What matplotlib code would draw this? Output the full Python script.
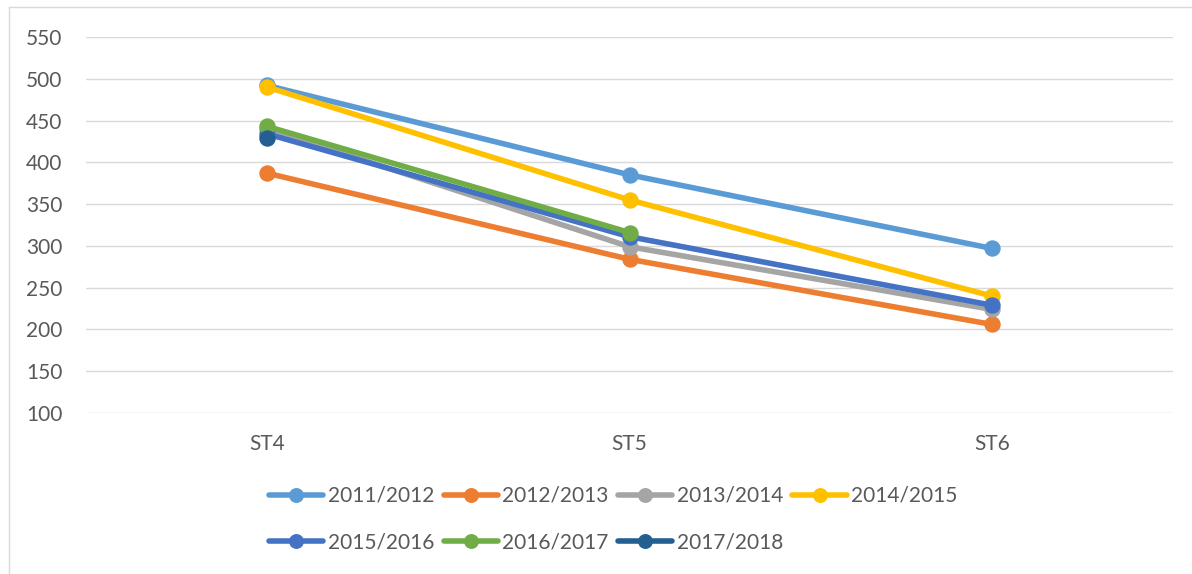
import matplotlib
matplotlib.use("Agg")
import matplotlib.pyplot as plt
from matplotlib.lines import Line2D
import numpy as np

plt.rcParams['font.family'] = ['Lato', 'DejaVu Sans']

categories = ["ST4", "ST5", "ST6"]
series_names = ["2011/2012", "2012/2013", "2013/2014", "2014/2015",
                "2015/2016", "2016/2017", "2017/2018"]
v_2011 = [492, 385, 297]
v_2012 = [387, 284, 206]
v_2013 = [440, 299, 224]
v_2014 = [490, 355, 240]
v_2015 = [434, 311, 229]
v_2016 = [443, 316, None]
v_2017 = [429, None, None]
series_values = [v_2011, v_2012, v_2013, v_2014, v_2015, v_2016, v_2017]
colors = ["#5B9BD5", "#ED7D31", "#A5A5A5", "#FFC000", "#4472C4", "#70AD47", "#255E91"]
yticks = [100, 150, 200, 250, 300, 350, 400, 450, 500, 550]

W, H = 1192, 574
fig = plt.figure(figsize=(W / 100, H / 100), dpi=100)
ax = fig.add_axes([86 / W, 1 - 413 / H, (1173 - 86) / W, (413 - 37) / H])

LW = 4.0
MS = 10.8
x = np.arange(len(categories))
for name, vals, c in zip(series_names, series_values, colors):
    y = np.array([np.nan if v is None else v for v in vals], dtype=float)
    ax.plot(x, y, color=c, lw=LW, marker='o', markersize=MS,
            solid_capstyle='round', label=name, zorder=3)

ax.set_xlim(-0.5, len(categories) - 0.5)
ax.set_ylim(100, 550)
ax.set_yticks(yticks)
ax.set_xticks(x)
ax.set_xticklabels(categories)
ax.grid(axis='y', color='#D9D9D9', lw=1)
ax.set_axisbelow(True)
for s in ax.spines.values():
    s.set_visible(False)
ax.tick_params(axis='both', length=0, colors='#595959', labelsize=15)
ax.tick_params(axis='y', pad=17)
ax.tick_params(axis='x', pad=15)

# legend: row-major order like the reference (matplotlib fills column-major)
order = [0, 4, 1, 5, 2, 6, 3]
handles = [Line2D([0], [0], color=colors[i], lw=LW, marker='o', markersize=MS * 0.9,
                  solid_capstyle='round') for i in order]
labels = [series_names[i] for i in order]
leg = fig.legend(handles, labels, loc='upper left', ncol=4,
                 bbox_to_anchor=(269 / W, 1 - 486 / H), frameon=False,
                 fontsize=15, handlelength=2.6, handletextpad=0.22,
                 columnspacing=0.45, labelspacing=1.25, borderaxespad=0,
                 borderpad=0)
for t in leg.get_texts():
    t.set_color('#595959')

# outer chart border (left and top visible)
fig.add_artist(Line2D([9 / W, 9 / W], [0, 1 - 7 / H], color='#D9D9D9', lw=1,
                      transform=fig.transFigure))
fig.add_artist(Line2D([9 / W, 1], [1 - 7 / H, 1 - 7 / H], color='#D9D9D9', lw=1,
                      transform=fig.transFigure))

fig.savefig("out.png", dpi=100)
